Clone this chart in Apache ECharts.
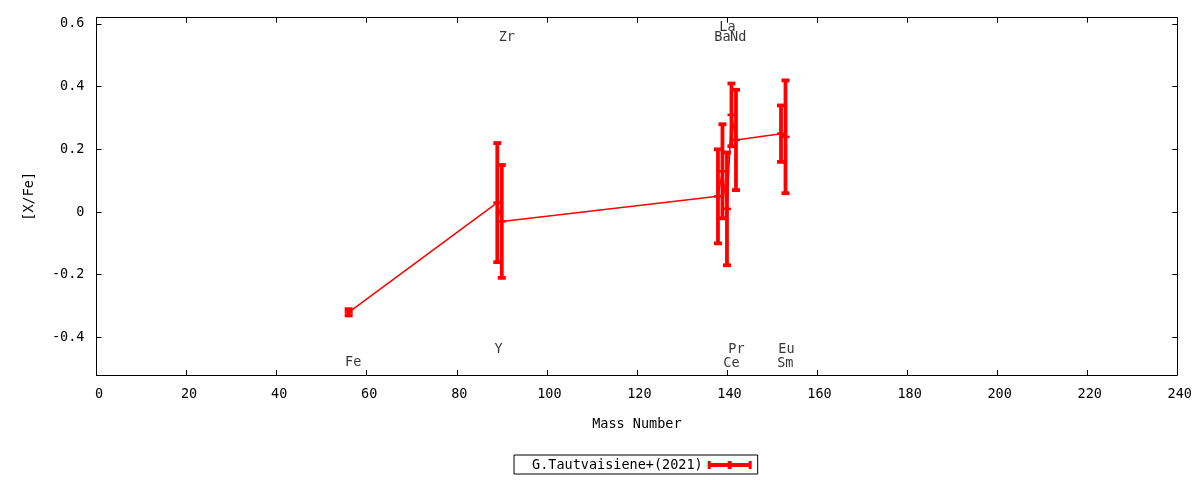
<!DOCTYPE html>
<html>
<head>
<meta charset="utf-8">
<script src="https://cdn.jsdelivr.net/npm/echarts@6/dist/echarts.min.js"></script>
<style>
html,body{margin:0;padding:0;background:#fff;}
#chart{width:1200px;height:480px;}
</style>
</head>
<body>
<div id="chart"></div>
<script>
const seriesName = 'G.Tautvaisiene+(2021)';
const elements = ['Fe','Y','Zr','Ba','La','Ce','Pr','Nd','Sm','Eu'];
const massNumbers = [56, 89, 90, 138, 139, 140, 141, 142, 152, 153];
const abundances = [-0.32, 0.03, -0.03, 0.05, 0.13, 0.01, 0.31, 0.23, 0.25, 0.24];
const errors = [0.01, 0.19, 0.18, 0.15, 0.15, 0.18, 0.10, 0.16, 0.09, 0.18];
const labelX = [57.0, 89.3, 91.1, 139.0, 140.1, 141.0, 142.1, 142.5, 152.95, 153.2];
const labelY = [-0.48, -0.438, 0.558, 0.557, 0.59, -0.483, -0.438, 0.557, -0.483, -0.438];
const xTicks = { min: 0, max: 240, interval: 20 };
const yTickValues = [-0.4, -0.2, 0, 0.2, 0.4, 0.6];
const yRange = { min: -0.52, max: 0.62 };

const FONT = 'DejaVu Sans Mono';
const FS = 13.5;
const RED = '#ff0000';

const lineData = massNumbers.map((m, i) => [m, abundances[i]]);
const errData = massNumbers.map((m, i) => [m, abundances[i], errors[i]]);
const labelData = elements.map((e, i) => [labelX[i], labelY[i], e]);

const chart = echarts.init(document.getElementById('chart'), null, { renderer: 'canvas' });

function axisLine() {
  return { show: true, onZero: false, lineStyle: { color: '#000', width: 1 } };
}

chart.setOption({
  animation: false,
  backgroundColor: '#fff',
  grid: { left: 96.5, right: 22.7, top: 17.7, bottom: 105, containLabel: false },
  xAxis: [
    {
      type: 'value', min: xTicks.min, max: xTicks.max, interval: xTicks.interval,
      position: 'bottom',
      axisLine: axisLine(), splitLine: { show: false },
      name: 'Mass Number', nameLocation: 'middle', nameGap: 42,
      nameTextStyle: { fontFamily: FONT, fontSize: FS, color: '#000' },
      axisTick: { show: true, inside: true, length: 5, lineStyle: { color: '#000' } },
      axisLabel: { show: true, margin: 12, padding: [0, 0, 0, 5], fontFamily: FONT, fontSize: FS, color: '#000' }
    },
    {
      type: 'value', min: xTicks.min, max: xTicks.max, interval: xTicks.interval,
      position: 'top',
      axisLine: axisLine(), splitLine: { show: false },
      axisTick: { show: true, inside: true, length: 5, lineStyle: { color: '#000' } },
      axisLabel: { show: false }
    }
  ],
  yAxis: [
    {
      type: 'value', min: yRange.min, max: yRange.max,
      position: 'left',
      axisLine: axisLine(), splitLine: { show: false },
      name: '[X/Fe]', nameLocation: 'middle', nameGap: 60, nameRotate: 90,
      nameTextStyle: { fontFamily: FONT, fontSize: FS, color: '#000' },
      axisTick: { show: true, inside: true, length: 5, lineStyle: { color: '#000' }, customValues: yTickValues },
      axisLabel: { show: true, margin: 12, fontFamily: FONT, fontSize: FS, color: '#000', customValues: yTickValues,
        formatter: v => String(Math.round(v * 10) / 10) }
    },
    {
      type: 'value', min: yRange.min, max: yRange.max,
      position: 'right',
      axisLine: axisLine(), splitLine: { show: false },
      axisTick: { show: true, inside: true, length: 5, lineStyle: { color: '#000' }, customValues: yTickValues },
      axisLabel: { show: false }
    }
  ],
  legend: {
    show: true,
    data: [{ name: seriesName, itemStyle: { color: RED } }],
    left: 514, top: 455,
    align: 'right',
    orient: 'horizontal',
    icon: 'path://M0,0h3v8h-3z M20,0h4v8h-4z M41,0h3v8h-3z M0,2h44v4h-44z',
    itemWidth: 44, itemHeight: 8,
    borderColor: '#000', borderWidth: 1, borderRadius: 0,
    padding: [3, 6, 2, 18],
    textStyle: { fontFamily: FONT, fontSize: FS, color: '#000' }
  },
  series: [
    {
      name: seriesName,
      type: 'line',
      xAxisIndex: 0, yAxisIndex: 0,
      data: lineData,
      showSymbol: false,
      symbol: 'none',
      lineStyle: { color: RED, width: 1.5 },
      itemStyle: { color: RED },
      z: 2
    },
    {
      name: seriesName,
      type: 'custom',
      xAxisIndex: 0, yAxisIndex: 0,
      data: errData,
      itemStyle: { color: RED },
      renderItem: function (params, api) {
        const x = api.value(0), y = api.value(1), e = api.value(2);
        const pTop = api.coord([x, y + e]);
        const pBot = api.coord([x, y - e]);
        const pMid = api.coord([x, y]);
        const cw = 4;
        const st = { stroke: RED, lineWidth: 3.8, fill: null };
        const pt = { stroke: RED, lineWidth: 2.5, fill: null };
        return {
          type: 'group',
          children: [
            { type: 'line', shape: { x1: pTop[0], y1: pTop[1], x2: pBot[0], y2: pBot[1] }, style: st },
            { type: 'line', shape: { x1: pTop[0] - cw, y1: pTop[1], x2: pTop[0] + cw, y2: pTop[1] }, style: st },
            { type: 'line', shape: { x1: pBot[0] - cw, y1: pBot[1], x2: pBot[0] + cw, y2: pBot[1] }, style: st },
            { type: 'line', shape: { x1: pMid[0] - cw, y1: pMid[1], x2: pMid[0] + cw, y2: pMid[1] }, style: pt },
            { type: 'line', shape: { x1: pMid[0], y1: pMid[1] - cw, x2: pMid[0], y2: pMid[1] + cw }, style: pt }
          ]
        };
      },
      z: 3
    },
    {
      name: 'labels',
      type: 'scatter',
      xAxisIndex: 0, yAxisIndex: 0,
      data: labelData,
      symbolSize: 1,
      itemStyle: { color: 'rgba(0,0,0,0)' },
      label: {
        show: true, position: 'inside',
        formatter: p => p.value[2],
        fontFamily: FONT, fontSize: FS, color: '#000'
      },
      silent: true,
      z: 4
    }
  ]
});
</script>
</body>
</html>
